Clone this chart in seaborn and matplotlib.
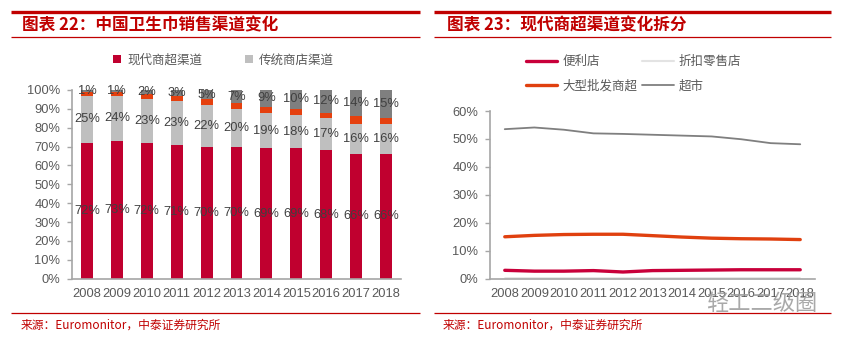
import numpy as np
import pandas as pd
import matplotlib
matplotlib.use("Agg")
import matplotlib.pyplot as plt
from matplotlib.lines import Line2D
from matplotlib.patches import Patch
import seaborn as sns

# ---------------- data ----------------
years = ["2008", "2009", "2010", "2011", "2012", "2013", "2014", "2015", "2016", "2017", "2018"]
# left chart (stacked shares, %)
modern = [72, 73, 72, 71, 70, 70, 69, 69, 68, 66, 66]
traditional = [25, 24, 23, 23, 22, 20, 19, 18, 17, 16, 16]
other = [2, 2, 3, 3, 3, 3, 3, 3, 3, 4, 3]
online = [1, 1, 2, 3, 5, 7, 9, 10, 12, 14, 15]
left_legend = ["现代商超渠道", "传统商店渠道"]

# right chart (lines, %)
convenience = [3.0, 2.7, 2.7, 2.9, 2.4, 2.9, 3.0, 3.1, 3.2, 3.2, 3.2]
discount = [0.3, 0.3, 0.3, 0.3, 0.3, 0.3, 0.3, 0.3, 0.3, 0.3, 0.3]
hypermarket = [15.0, 15.5, 15.8, 15.9, 15.9, 15.4, 14.9, 14.5, 14.3, 14.2, 14.0]
supermarket = [53.5, 54.1, 53.3, 52.0, 51.8, 51.5, 51.2, 50.9, 49.9, 48.5, 48.1]
right_series = ["便利店", "折扣零售店", "大型批发商超", "超市"]

title_left = "图表 22：中国卫生巾销售渠道变化"
title_right = "图表 23：现代商超渠道变化拆分"
source = "来源：Euromonitor，中泰证券研究所"
watermark = "轻工二级圈"

# ---------------- style ----------------
sns.set_theme(style="white")
plt.rcParams["font.family"] = ["Liberation Sans", "Noto Sans CJK SC", "DejaVu Sans"]
CJK = ["Noto Sans CJK SC", "DejaVu Sans"]

RED = "#C00000"
C_MODERN = "#C0002F"
C_TRAD = "#BFBFBF"
C_OTHER = "#E5400E"
C_ONLINE = "#7F7F7F"
TICK_C = "#595959"
SPINE_C = "#A6A6A6"

W, H = 841, 339
fig = plt.figure(figsize=(W / 100, H / 100), dpi=100)


def fx(px):
    return px / W


def fy(py):
    return 1 - py / H


def hline(x0, x1, y, lw, color=RED):
    fig.add_artist(Line2D([fx(x0), fx(x1)], [fy(y), fy(y)], lw=lw, color=color,
                          transform=fig.transFigure, solid_capstyle="butt"))


# decorations: header lines, titles, footer lines, sources
hline(11, 420, 12, 2.4)
hline(11, 420, 37, 0.9)
hline(434, 831, 12, 2.4)
hline(434, 831, 37, 0.9)
hline(11, 420, 313, 0.9)
hline(434, 831, 313, 0.9)
fig.text(fx(22), fy(25), title_left, color=RED, fontsize=12, fontweight="bold",
         family=CJK, va="center", ha="left")
fig.text(fx(447), fy(25), title_right, color=RED, fontsize=12, fontweight="bold",
         family=CJK, va="center", ha="left")
fig.text(fx(21), fy(325), source, color=RED, fontsize=8.5, family=CJK, va="center", ha="left")
fig.text(fx(443), fy(325), source, color=RED, fontsize=8.5, family=CJK, va="center", ha="left")


def style_axes(ax, ymax, step):
    for s in ["top", "right"]:
        ax.spines[s].set_visible(False)
    for s in ["left", "bottom"]:
        ax.spines[s].set_color(SPINE_C)
        ax.spines[s].set_linewidth(1.2)
    ax.set_xlim(-0.5, len(years) - 0.5)
    ax.set_ylim(0, ymax)
    ticks = np.arange(0, ymax + 0.1, step)
    ax.set_yticks(ticks)
    ax.set_yticklabels([f"{int(t)}%" for t in ticks])
    ax.set_xticks(range(len(years)))
    ax.set_xticklabels(years)
    ax.set_xticks(np.arange(-0.5, len(years), 1.0), minor=True)
    ax.tick_params(axis="x", which="major", length=0, pad=7, labelsize=9.3, labelcolor=TICK_C)
    ax.tick_params(axis="x", which="minor", length=3.5, width=1, color=SPINE_C, direction="out")
    ax.tick_params(axis="y", length=3.5, width=1, color=SPINE_C, direction="out",
                   pad=5, labelsize=9.3, labelcolor=TICK_C, left=True)
    ax.set_xlabel("")
    ax.set_ylabel("")
    ax.grid(False)


# ---------------- left chart ----------------
axL = fig.add_axes([fx(72), fy(278.7), fx(401 - 72), (278.7 - 90) / H])
dfL = pd.DataFrame({"year": years, "modern": modern, "traditional": traditional,
                    "other": other, "online": online})
dfL["c1"] = dfL["modern"]
dfL["c2"] = dfL["c1"] + dfL["traditional"]
dfL["c3"] = dfL["c2"] + dfL["other"]
dfL["c4"] = dfL["c3"] + dfL["online"]
for col, colr in [("c4", C_ONLINE), ("c3", C_OTHER), ("c2", C_TRAD), ("c1", C_MODERN)]:
    sns.barplot(data=dfL, x="year", y=col, color=colr, width=0.4, ax=axL,
                saturation=1, linewidth=0, errorbar=None)
style_axes(axL, 100, 10)

lab_kw = dict(ha="center", va="center", fontsize=9.3, color="#404040")
for i in range(len(years)):
    axL.text(i, modern[i] / 2, f"{modern[i]}%", **lab_kw)
    axL.text(i, modern[i] + traditional[i] / 2, f"{traditional[i]}%", **lab_kw)
    axL.text(i, dfL["c3"][i] + online[i] / 2, f"{online[i]}%", **lab_kw)

handlesL = [Patch(facecolor=C_MODERN, edgecolor="none"), Patch(facecolor=C_TRAD, edgecolor="none")]
legL = axL.legend(handlesL, left_legend, ncol=2, frameon=False,
                  loc="center left", bbox_to_anchor=((113 - 72) / 329, 1 + (90 - 60) / (278.7 - 90)),
                  handlelength=0.65, handleheight=0.65, handletextpad=0.5,
                  columnspacing=3.4, borderaxespad=0, borderpad=0,
                  prop={"family": CJK, "size": 9})
for t in legL.get_texts():
    t.set_color(TICK_C)

# ---------------- right chart ----------------
axR = fig.add_axes([fx(490), fy(278.7), fx(815 - 490), (278.7 - 111) / H])
dfR = pd.DataFrame({"year": years * 4,
                    "series": np.repeat(right_series, len(years)),
                    "value": convenience + discount + hypermarket + supermarket})
palette = {"便利店": "#C8003A", "折扣零售店": "#E3E3E3", "大型批发商超": "#E0400F", "超市": "#7F7F7F"}
sizes = {"便利店": 2.4, "折扣零售店": 1.2, "大型批发商超": 2.4, "超市": 1.3}
sns.lineplot(data=dfR, x="year", y="value", hue="series", size="series", sizes=sizes,
             palette=palette, hue_order=right_series, size_order=right_series,
             sort=False, ax=axR, legend=False)
style_axes(axR, 60, 10)

leg_order = ["便利店", "大型批发商超", "折扣零售店", "超市"]
handlesR = [Line2D([], [], color=palette[s], lw=sizes[s] if s != "折扣零售店" else 1.5) for s in leg_order]
legR = axR.legend(handlesR, leg_order, ncol=2, frameon=False,
                  loc="upper left", bbox_to_anchor=((526 - 490) / (815 - 490), 1 + (111 - 55) / (278.7 - 111)),
                  handlelength=2.5, handletextpad=0.4, columnspacing=0.4,
                  labelspacing=0.9, borderaxespad=0, borderpad=0,
                  prop={"family": CJK, "size": 9})
for t in legR.get_texts():
    t.set_color(TICK_C)

# watermark
fig.text(fx(762), fy(303), watermark, family=CJK, fontsize=16, color="#9A9A9A",
         alpha=0.85, ha="center", va="center")

fig.savefig("out.png", dpi=100)
